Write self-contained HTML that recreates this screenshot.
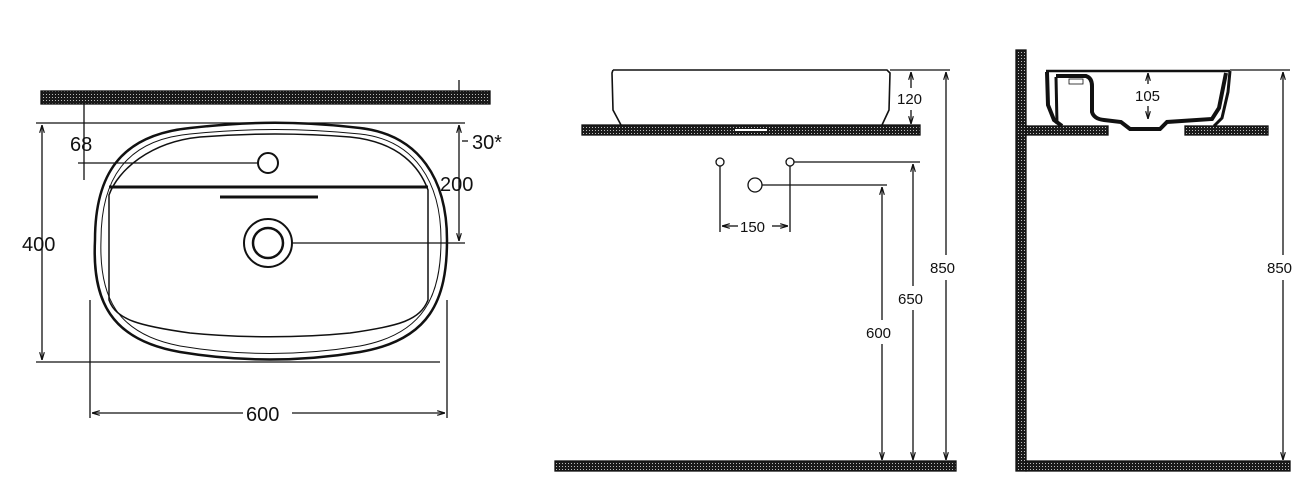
<!DOCTYPE html>
<html><head><meta charset="utf-8"><style>
html,body{margin:0;padding:0;background:#fff}
svg{display:block}
text{font-family:"Liberation Sans",Arial,sans-serif;fill:#111}
</style></head><body>
<svg width="1311" height="501" viewBox="0 0 1311 501" xmlns="http://www.w3.org/2000/svg">
<defs>
<pattern id="h" width="3" height="3" patternUnits="userSpaceOnUse">
<rect width="3" height="3" fill="#1a1a1a"/><rect x="1" y="1" width="1" height="1" fill="#bbb"/>
</pattern>
<marker id="a" viewBox="0 0 10 10" refX="10" refY="5" markerWidth="6" markerHeight="6" orient="auto-start-reverse"><path d="M0,2 L10,5 L0,8" fill="none" stroke="#111" stroke-width="1.5"/></marker>
</defs>
<g stroke="#111" fill="none" stroke-width="1.3">
<rect x="41" y="91" width="449" height="13" fill="url(#h)" stroke="#111"/>
<line x1="36" y1="123" x2="465" y2="123"/>
<line x1="36" y1="362" x2="440" y2="362"/>
<line x1="42" y1="125" x2="42" y2="360" marker-start="url(#a)" marker-end="url(#a)"/>
<line x1="84" y1="104" x2="84" y2="180"/>
<line x1="78" y1="163" x2="258" y2="163"/>
<circle cx="268" cy="163" r="10" stroke-width="2"/>
<path d="M95,240 C95,175 120,135 190,128 C250,121 300,121 360,128 C420,135 447,180 447,240 C447,300 430,340 360,352 C300,362 240,362 180,352 C110,340 92,300 95,240 Z" stroke-width="2.5"/>
<path d="M101,240 C101,180 125,140 190,134 C250,128 300,128 360,134 C415,140 441,182 441,240 C441,296 424,334 360,346 C300,356 240,356 180,346 C116,334 99,296 101,240 Z" stroke-width="1"/>
<path d="M109,195 C118,170 150,142 200,137 C250,133 300,133 350,137 C400,142 420,168 428,190 L428,300 C420,320 400,326 350,333 C300,338 240,338 190,333 C140,326 116,320 109,300 Z" stroke-width="1.5"/>
<line x1="109" y1="187" x2="428" y2="187" stroke-width="3"/>
<line x1="220" y1="197" x2="318" y2="197" stroke-width="3"/>
<circle cx="268" cy="243" r="24" stroke-width="2"/>
<circle cx="268" cy="243" r="15" stroke-width="2.5"/>
<line x1="292" y1="243" x2="465" y2="243"/>
<line x1="459" y1="80" x2="459" y2="104"/>
<line x1="459" y1="140" x2="459" y2="125" marker-end="url(#a)"/>
<line x1="459" y1="140" x2="459" y2="241" marker-end="url(#a)"/>
<line x1="90" y1="300" x2="90" y2="418"/>
<line x1="447" y1="300" x2="447" y2="418"/>
<line x1="92" y1="413" x2="243" y2="413" marker-start="url(#a)"/>
<line x1="292" y1="413" x2="445" y2="413" marker-end="url(#a)"/>
<line x1="462" y1="141" x2="468" y2="141"/>

<rect x="582" y="125" width="338" height="10" fill="url(#h)"/>
<line x1="735" y1="130" x2="767" y2="130" stroke="#fff" stroke-width="2"/>
<path d="M613,70 L887,70 L890,73 L889,110 L882,125 M613,70 L612,73 L613,110 L621,125" stroke-width="1.6"/>
<line x1="890" y1="70" x2="950" y2="70"/>
<line x1="911" y1="72" x2="911" y2="88" marker-start="url(#a)"/>
<line x1="911" y1="110" x2="911" y2="124" marker-end="url(#a)"/>
<line x1="946" y1="72" x2="946" y2="255" marker-start="url(#a)"/>
<line x1="946" y1="280" x2="946" y2="460" marker-end="url(#a)"/>
<rect x="555" y="461" width="401" height="10" fill="url(#h)"/>
<circle cx="720" cy="162" r="4"/>
<circle cx="790" cy="162" r="4"/>
<circle cx="755" cy="185" r="7"/>
<line x1="720" y1="166" x2="720" y2="232"/>
<line x1="790" y1="166" x2="790" y2="232"/>
<line x1="722" y1="226" x2="738" y2="226" marker-start="url(#a)"/>
<line x1="772" y1="226" x2="788" y2="226" marker-end="url(#a)"/>
<line x1="794" y1="162" x2="920" y2="162"/>
<line x1="762" y1="185" x2="887" y2="185"/>
<line x1="913" y1="164" x2="913" y2="286" marker-start="url(#a)"/>
<line x1="913" y1="310" x2="913" y2="460" marker-end="url(#a)"/>
<line x1="882" y1="187" x2="882" y2="320" marker-start="url(#a)"/>
<line x1="882" y1="344" x2="882" y2="460" marker-end="url(#a)"/>

<rect x="1016" y="50" width="10" height="421" fill="url(#h)"/>
<rect x="1026" y="461" width="264" height="10" fill="url(#h)"/>
<rect x="1026" y="126" width="82" height="9" fill="url(#h)"/>
<rect x="1185" y="126" width="83" height="9" fill="url(#h)"/>
<line x1="1046" y1="71" x2="1230" y2="71" stroke-width="2.5"/>
<path d="M1047,72 L1048,105 L1054,120 L1062,126" stroke-width="4"/>
<path d="M1056,77 L1057,124" stroke-width="3"/>
<path d="M1056,76 L1086,76 Q1092,78 1092,86 L1092,112 Q1094,119 1104,120 L1121,122 L1130,129 L1160,129 L1167,122 L1212,119 L1219,108 L1226,73" stroke-width="4"/>
<path d="M1230,71 L1228,92 L1222,118 L1214,126" stroke-width="3"/>
<rect x="1069" y="79" width="14" height="5" fill="#fff" stroke="#111" stroke-width="0.8"/>
<line x1="1230" y1="70" x2="1290" y2="70"/>
<line x1="1148" y1="73" x2="1148" y2="84" marker-start="url(#a)"/>
<line x1="1148" y1="106" x2="1148" y2="119" marker-end="url(#a)"/>
<line x1="1283" y1="72" x2="1283" y2="255" marker-start="url(#a)"/>
<line x1="1283" y1="280" x2="1283" y2="460" marker-end="url(#a)"/>
</g>
<g font-size="20">
<text x="22" y="251">400</text>
<text x="70" y="151">68</text>
<text x="472" y="149">30*</text>
<text x="440" y="191">200</text>
<text x="246" y="421">600</text>
</g>
<g font-size="15">
<text x="897" y="104">120</text>
<text x="740" y="232">150</text>
<text x="930" y="273">850</text>
<text x="898" y="304">650</text>
<text x="866" y="338">600</text>
<text x="1135" y="101">105</text>
<text x="1267" y="273">850</text>
</g>
</svg>
</body></html>
